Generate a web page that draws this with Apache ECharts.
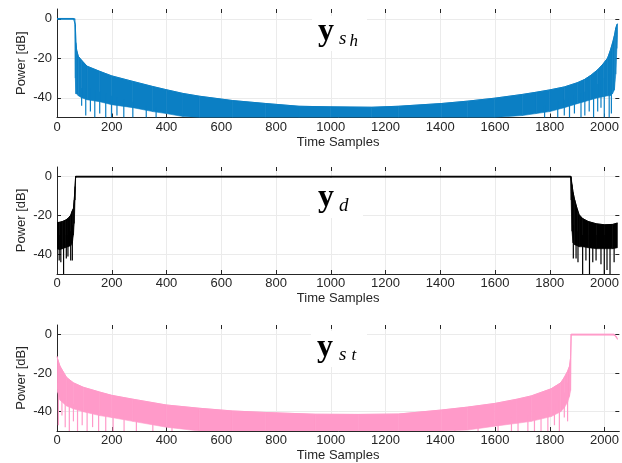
<!DOCTYPE html>
<html><head><meta charset="utf-8">
<script src="https://cdn.jsdelivr.net/npm/echarts@6/dist/echarts.min.js"></script>
<style>html,body{margin:0;padding:0;background:#fff}#c{width:622px;height:463px}</style>
</head><body><div id="c"></div>
<script>
// ---- tick labels ----
const xTicks = [0,200,400,600,800,1000,1200,1400,1600,1800,2000];
const yTicks = [-40,-20,0];

// ---- panel 1: y_sh (upper / lower envelope of the dense trace, dB) ----
const shX     = [0,60,65,67,69,72,78,90,110,156,200,277,350,399,460,520,641,762,884,1000,1150,1247,1405,1500,1599,1700,1750,1800,1853,1900,1926,1950,1975,1995,2011,2020,2029,2036,2041,2045,2047];
const shUpper = [0.2,0.2,0.1,-3,-12,-16,-19,-21,-24,-26.6,-28.9,-31.7,-34.3,-35.9,-37.8,-39.2,-41.4,-42.9,-44.3,-44.6,-44.8,-44.3,-42.9,-41.7,-40.2,-38.3,-37.2,-36,-34.5,-32.4,-30.8,-28.6,-25.8,-22.8,-19.9,-16.5,-12.3,-8.5,-4.7,-3,-2.5];
const shLower = [-0.3,-0.3,-0.4,-30,-38,-38,-39,-40,-41,-42,-43.5,-45,-47,-48,-49.5,-50,-50,-50,-50,-50,-50,-50,-50,-50,-50,-49,-48,-47,-45,-43,-42,-41,-40,-39.5,-39,-39,-38,-36,-28,-15,-8];
const shDips  = [[90,-35,-44],[105,-35,-49],[122,-35,-47],[138,-36,-50],[156,-37,-48],[178,-38,-50],[199,-39,-50],[219,-40,-49],[244,-41,-50],[277,-42,-50],[326,-44,-50],[362,-45,-50],
                 [1781,-44,-50],[1829,-42,-50],[1853,-41,-49],[1872,-40,-50],[1890,-39,-48],[1914,-38,-50],[1928,-37,-49],[1944,-36,-47],[1960,-35,-50],[1975,-33,-47],[1987,-31,-45],[1999,-30,-50],[2017,-28,-50],[2025,-22,-48]];

// ---- panel 2: y_d ----
const dX     = [0,10,20,30,40,50,56,60,63,66,68,70,1000,1876,1878,1881,1885,1891,1900,1907,1920,1940,1970,2000,2030,2047];
const dUpper = [-23.6,-23.4,-23,-22.4,-21.5,-19.8,-17.5,-16.3,-12,-5,0.2,0.2,0.2,0.2,0.1,-4,-8,-12,-16.5,-19.5,-21.5,-23,-24.2,-24.7,-24.5,-23.8];
const dLower = [-37,-37.5,-37,-36.5,-36,-35.5,-34,-30,-24,-12,-0.3,-0.3,-0.3,-0.3,-12,-28,-34,-35,-35.5,-36,-36,-36.5,-37,-37,-37,-36.5];
const dDips  = [[8,-30,-43],[14,-30,-44],[24,-30,-50],[34,-30,-42],[40,-30,-41],[50,-28,-43],[56,-25,-43],
                [1886,-25,-42],[1896,-28,-42],[1903,-28,-44],[1920,-30,-50],[1932,-30,-43],[1945,-30,-50],[1957,-30,-44],[1969,-30,-43],[1987,-30,-45],[1999,-30,-50],[2009,-30,-48],[2020,-30,-50],[2035,-30,-44]];

// ---- panel 3: y_st ----
const stX     = [0,3,11,35,60,96,156,200,277,399,520,641,762,944,1100,1247,1405,1500,1599,1680,1732,1805,1840,1853,1865,1872,1876,1878,1880,2035,2042,2047];
const stUpper = [-11.3,-13,-16.4,-22.2,-25,-27.3,-29.8,-31.5,-33.5,-36.5,-38.2,-39.6,-40.4,-41.3,-41.4,-41.2,-39.1,-37.6,-35.7,-33.5,-31.8,-28.1,-25,-22.2,-19,-16.4,-12,0.2,0.2,0.2,-0.8,-2];
const stLower = [-28,-30,-34,-37,-38.5,-40,-42,-43,-45,-48,-50,-50,-50,-50,-50,-50,-50,-49.5,-47.5,-46,-45,-42.5,-40,-38,-35,-32,-29,-0.3,-0.3,-0.3,-1.3,-2.5];
const stDips  = [[5,-25,-47],[18,-30,-42],[30,-33,-48],[45,-35,-50],[60,-36,-45],[75,-37,-50],[92,-38,-47],[110,-39,-50],[130,-40,-48],[152,-40,-50],[178,-41,-50],[205,-41,-50],[245,-42,-50],[290,-44,-50],[350,-45,-50],[420,-46,-50],
                 [1453,-47,-50],[1538,-46,-50],[1611,-44,-50],[1660,-43,-50],[1684,-42,-50],[1720,-42,-50],[1744,-40,-50],[1768,-40,-50],[1793,-38,-50],[1817,-36,-47],[1835,-34,-50],[1853,-30,-43],[1865,-25,-45]];

const panels = [
  {x: shX, up: shUpper, lo: shLower, dips: shDips, color: '#0b7fc4', top: 9, height: 108.5},
  {x: dX,  up: dUpper,  lo: dLower,  dips: dDips,  color: '#000000', top: 167, height: 107},
  {x: stX, up: stUpper, lo: stLower, dips: stDips, color: '#ff9ac9', top: 325, height: 108.5}
];

const AX = '#262626', GRID = '#ebebeb', FONT = 'Liberation Sans';
const grid = [], xAxis = [], yAxis = [], series = [];
panels.forEach((p, i) => {
  grid.push({left: 57, right: 1, top: p.top, height: p.height});
  xAxis.push({
    type: 'value', gridIndex: i, min: 0, max: 2054, interval: 200, position: 'bottom',
    name: 'Time Samples', nameLocation: 'middle', nameGap: 18, nameMoveOverlap: false,
    nameTextStyle: {color: AX, fontFamily: FONT, fontSize: 13, verticalAlign: 'top'},
    axisLine: {show: true, onZero: false, lineStyle: {color: AX, width: 1}},
    axisTick: {show: true, inside: true, length: 4, customValues: xTicks, lineStyle: {color: AX}},
    axisLabel: {color: AX, fontFamily: FONT, fontSize: 13, margin: 3, customValues: xTicks, formatter: v => String(v)},
    splitLine: {show: true, lineStyle: {color: GRID, width: 1}}
  });
  yAxis.push({
    type: 'value', gridIndex: i, min: -50, max: 5, interval: 10, position: 'left',
    name: 'Power [dB]', nameLocation: 'middle', nameGap: 29, nameMoveOverlap: false,
    nameTextStyle: {color: AX, fontFamily: FONT, fontSize: 13},
    axisLine: {show: true, onZero: false, lineStyle: {color: AX, width: 1}},
    axisTick: {show: true, inside: true, length: 4, customValues: yTicks, lineStyle: {color: AX}},
    axisLabel: {color: AX, fontFamily: FONT, fontSize: 13, margin: 5, customValues: yTicks, formatter: v => String(v)},
    splitLine: {show: true, lineStyle: {color: GRID, width: 1}}
  });
  // filled band between lower and upper envelopes, one quad per segment
  const segs = [];
  for (let k = 0; k < p.x.length - 1; k++) {
    segs.push([p.x[k], p.up[k], p.lo[k], p.x[k + 1], p.up[k + 1], p.lo[k + 1]]);
  }
  series.push({
    type: 'custom', xAxisIndex: i, yAxisIndex: i, data: segs, silent: true, clip: true, z: 2,
    encode: {x: [0, 3], y: [1, 2, 4, 5]},
    renderItem: (params, api) => {
      const a = api.coord([api.value(0), api.value(1)]);
      const b = api.coord([api.value(3), api.value(4)]);
      const c = api.coord([api.value(3), api.value(5)]);
      const d = api.coord([api.value(0), api.value(2)]);
      return {type: 'polygon', shape: {points: [a, b, c, d]},
        style: {fill: p.color, stroke: p.color, lineWidth: 0.6}};
    }
  });
  // upper edge of the trace
  series.push({
    type: 'line', xAxisIndex: i, yAxisIndex: i, data: p.x.map((x, k) => [x, p.up[k]]),
    symbol: 'none', silent: true, lineStyle: {color: p.color, width: 1}, z: 3
  });
  // deep notches of the trace
  series.push({
    type: 'custom', xAxisIndex: i, yAxisIndex: i, data: p.dips, silent: true, clip: true, z: 4,
    encode: {x: 0, y: [1, 2]},
    renderItem: (params, api) => {
      const a = api.coord([api.value(0), api.value(1)]);
      const b = api.coord([api.value(0), api.value(2)]);
      return {type: 'line', shape: {x1: a[0], y1: a[1], x2: b[0], y2: b[1]}, style: {stroke: p.color, lineWidth: 1.2}};
    }
  });
});
// ticks on top and right (box style)
panels.forEach((p, i) => {
  xAxis.push({type: 'value', gridIndex: i, min: 0, max: 2054, interval: 200, position: 'top',
    axisLine: {show: false, onZero: false}, axisLabel: {show: false}, splitLine: {show: false},
    axisTick: {show: true, inside: true, length: 4, customValues: xTicks, lineStyle: {color: AX}}});
  yAxis.push({type: 'value', gridIndex: i, min: -50, max: 5, interval: 10, position: 'right',
    axisLine: {show: false, onZero: false}, axisLabel: {show: false}, splitLine: {show: false},
    axisTick: {show: true, inside: true, length: 4, customValues: yTicks, lineStyle: {color: AX}}});
});

const SERIF = 'Liberation Serif';
function label(box, parts) {
  const children = [{type: 'rect', shape: box, style: {fill: '#ffffff'}, z: 100}];
  parts.forEach(t => children.push({type: 'text', x: t.x, y: t.y, z: 101,
    style: {text: t.text, fill: '#000', font: t.font, verticalAlign: 'middle', align: 'left'}}));
  return {type: 'group', children: children};
}
const graphic = [
  label({x: 312, y: 16, width: 55, height: 35}, [
    {text: 'y', x: 318, y: 32, font: 'bold 32px ' + SERIF},
    {text: 's', x: 339, y: 39, font: 'italic 19px ' + SERIF},
    {text: 'h', x: 349.5, y: 42, font: 'italic 17px ' + SERIF}
  ]),
  label({x: 310, y: 178, width: 53, height: 40}, [
    {text: 'y', x: 318, y: 198, font: 'bold 32px ' + SERIF},
    {text: 'd', x: 339, y: 206, font: 'italic 19px ' + SERIF}
  ]),
  label({x: 311, y: 331, width: 56, height: 36}, [
    {text: 'y', x: 317, y: 348, font: 'bold 32px ' + SERIF},
    {text: 's', x: 339, y: 355, font: 'italic 19px ' + SERIF},
    {text: 't', x: 351.5, y: 356, font: 'italic 17px ' + SERIF}
  ])
];

const chart = echarts.init(document.getElementById('c'), null, {renderer: 'canvas'});
chart.setOption({animation: false, backgroundColor: '#ffffff', grid, xAxis, yAxis, series, graphic});
</script></body></html>
